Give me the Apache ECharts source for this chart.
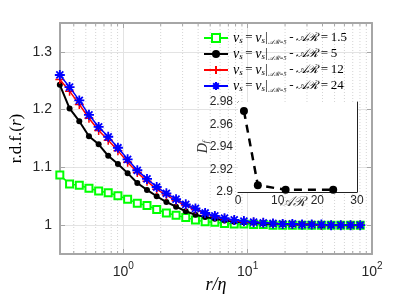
<!DOCTYPE html>
<html><head><meta charset="utf-8">
<script src="https://cdn.jsdelivr.net/npm/echarts@6/dist/echarts.min.js"></script>
<style>html,body{margin:0;padding:0;background:#fff}#c{width:411px;height:308px}</style>
</head><body><div id="c"></div>
<script>
// ---- data ----
const rOverEta = [0.309,0.370,0.443,0.530,0.634,0.757,0.906,1.084,1.297,1.552,1.857,2.222,2.658,3.181,3.806,4.554,5.449,6.519,7.80,9.33,11.17,13.36,15.99,19.13,22.89,27.39,32.77,39.2,46.9,56.1,67.2,80.4];
const rdfAR1_5 = [1.087,1.071,1.069,1.064,1.059,1.056,1.051,1.045,1.038,1.034,1.027,1.021,1.017,1.013,1.009,1.006,1.005,1.003,1.002,1.002,1.001,1.001,1.000,1.000,1.000,1.000,1.000,1.000,1.000,1.000,1.000,1.000];
const rdfAR5 = [1.243,1.202,1.180,1.154,1.140,1.120,1.106,1.090,1.073,1.061,1.050,1.040,1.032,1.024,1.018,1.014,1.011,1.008,1.006,1.005,1.004,1.003,1.002,1.002,1.001,1.001,1.001,1.000,1.000,1.000,1.000,1.000];
const rdfAR12 = [1.252,1.232,1.209,1.185,1.164,1.147,1.129,1.109,1.091,1.076,1.062,1.052,1.042,1.034,1.027,1.020,1.015,1.011,1.008,1.006,1.005,1.004,1.003,1.002,1.001,1.001,1.001,1.000,1.000,1.000,1.000,1.000];
const rdfAR24 = [1.260,1.239,1.216,1.191,1.170,1.153,1.134,1.114,1.095,1.080,1.066,1.055,1.045,1.036,1.029,1.021,1.016,1.012,1.009,1.007,1.005,1.004,1.003,1.002,1.002,1.001,1.001,1.001,1.000,1.000,1.000,1.000];
const insetAR = [1.5, 5, 12, 24];
const insetDf = [2.972, 2.906, 2.902, 2.902];
const seriesARLabels = ['1.5', '5', '12', '24'];
const minorTicks = [0.4,0.5,0.6,0.7,0.8,0.9,2,3,4,5,6,7,8,9,20,30,40,50,60,70,80,90];
const yTickLabels = ['1', '1.1', '1.2', '1.3'];

// ---- chart ----
const zip = (xs, ys) => xs.map((x, i) => [x, ys[i]]);
const AR = '\u{1D49C}\u211B';
const TS = '\u2009';
const legendText = {};
const names = ['AR=1.5', 'AR=5', 'AR=12', 'AR=24'];
names.forEach((n, i) => {
  legendText[n] = '{it|v}{sub|s}{rm|' + TS + '=' + TS + '}{it|v}{sub|s}{rm||}{tiny|' + AR + '=5}{rm|' + TS + '-' + TS + '}{cal|' + AR + '}{rm|' + TS + '=' + TS + seriesARLabels[i] + '}';
});
const serif = 'Liberation Serif';
const tickColor = '#262626';
const frame = '#a6a6a6';
const YMIN = 0.95, YMAX = 1.35;

const plusPath = 'path://M5,0L5,10M0,5L10,5';
const starPath = 'path://M5,0L5,10M0,5L10,5M1.5,1.5L8.5,8.5M8.5,1.5L1.5,8.5';

const chart = echarts.init(document.getElementById('c'), null, {renderer: 'canvas'});
chart.setOption({
  animation: false,
  backgroundColor: '#fff',
  grid: [
    {left: 55, top: 23, width: 317, height: 231},
    {left: 238, top: 102, width: 119, height: 90, show: true, backgroundColor: '#fff', borderWidth: 0, z: 5}
  ],
  legend: {
    orient: 'vertical', left: 203, top: 31, itemWidth: 24, itemHeight: 10, itemGap: 2,
    padding: 0,
    data: names,
    formatter: n => legendText[n],
    textStyle: {
      color: '#000',
      rich: {
        it: {fontFamily: serif, fontStyle: 'italic', fontSize: 14, lineHeight: 14},
        rm: {fontFamily: serif, fontSize: 13, lineHeight: 14},
        cal: {fontFamily: serif, fontStyle: 'italic', fontSize: 12, lineHeight: 14},
        sub: {fontFamily: serif, fontStyle: 'italic', fontSize: 9, lineHeight: 9, verticalAlign: 'bottom', padding: [4, 0, 0, 0]},
        tiny: {fontFamily: serif, fontStyle: 'italic', fontSize: 6, lineHeight: 6, verticalAlign: 'bottom', padding: [5, 0, 0, 0]}
      }
    }
  },
  xAxis: [
    {type: 'log', gridIndex: 0, min: 0.31, max: 100, logBase: 10,
     axisLine: {show: true, onZero: false, lineStyle: {color: frame, width: 2}},
     axisTick: {show: true, inside: true, length: 5, lineStyle: {color: frame}},
     splitLine: {show: true, lineStyle: {color: '#e3e3e3', width: 1}},
     axisLabel: {color: tickColor, fontFamily: 'Liberation Sans', fontSize: 14, margin: 7,
       formatter: v => { const e = Math.log10(v); if (Math.abs(e - Math.round(e)) > 1e-6) return ''; return '{b|10}{s|' + Math.round(e) + '}'; },
       rich: {b: {fontSize: 14, fontFamily: 'Liberation Sans', color: tickColor, verticalAlign: 'bottom', lineHeight: 18}, s: {fontSize: 10, fontFamily: 'Liberation Sans', color: tickColor, verticalAlign: 'top', lineHeight: 18}}},
     name: 'r/\u03B7', nameLocation: 'middle', nameGap: 22, nameMoveOverlap: false,
     nameTextStyle: {fontFamily: serif, fontStyle: 'italic', fontSize: 18, color: '#000'}},
    {type: 'log', gridIndex: 0, min: 0.31, max: 100, logBase: 10, position: 'top',
     axisLine: {show: true, onZero: false, lineStyle: {color: frame, width: 2}},
     axisTick: {show: true, inside: true, length: 5, lineStyle: {color: frame}},
     splitLine: {show: false}, axisLabel: {show: false}},
    {type: 'value', gridIndex: 1, min: 0, max: 30, interval: 10,
     axisLine: {show: true, onZero: false, lineStyle: {color: '#222', width: 1}},
     axisTick: {show: true, inside: true, length: 3, lineStyle: {color: '#222'}},
     splitLine: {show: false},
     axisLabel: {color: tickColor, fontFamily: 'Liberation Sans', fontSize: 12, margin: 3},
     name: AR, nameLocation: 'middle', nameGap: 3, nameMoveOverlap: false,
     nameTextStyle: {fontFamily: serif, fontStyle: 'italic', fontSize: 14, color: '#333', verticalAlign: 'top', padding: [0, 10, 0, 0]}},
    {type: 'value', gridIndex: 1, min: 0, max: 30, interval: 10, position: 'top',
     axisLine: {show: true, onZero: false, lineStyle: {color: '#222', width: 1}},
     axisTick: {show: true, inside: true, length: 3, lineStyle: {color: '#222'}},
     splitLine: {show: false}, axisLabel: {show: false}}
  ],
  yAxis: [
    {type: 'value', gridIndex: 0, min: YMIN, max: YMAX, splitNumber: 4,
     axisLine: {show: true, onZero: false, lineStyle: {color: frame, width: 2}},
     axisTick: {show: true, inside: true, length: 5, lineStyle: {color: frame}},
     splitLine: {show: true, lineStyle: {color: '#e3e3e3', width: 1}},
     axisLabel: {color: tickColor, fontFamily: 'Liberation Sans', fontSize: 14, margin: 8,
       formatter: v => { const k = yTickLabels.indexOf(String(Math.round(v * 10) / 10)); return (Math.abs(v * 10 - Math.round(v * 10)) < 1e-6 && k >= 0) ? yTickLabels[k] : ''; }},
     name: '{rm|r.d.f.(}{it|r}{rm|)}', nameLocation: 'middle', nameGap: 35, nameMoveOverlap: false,
     nameTextStyle: {color: '#000', rich: {
       rm: {fontFamily: serif, fontSize: 17, color: '#000'},
       it: {fontFamily: serif, fontStyle: 'italic', fontSize: 17, color: '#000'}}}},
    {type: 'value', gridIndex: 0, min: YMIN, max: YMAX, splitNumber: 4, position: 'right',
     axisLine: {show: true, onZero: false, lineStyle: {color: frame, width: 2}},
     axisTick: {show: true, inside: true, length: 5, lineStyle: {color: frame}},
     splitLine: {show: false}, axisLabel: {show: false}},
    {type: 'value', gridIndex: 1, min: 2.9, max: 2.98, interval: 0.02,
     axisLine: {show: true, onZero: false, lineStyle: {color: '#222', width: 1}},
     axisTick: {show: true, inside: true, length: 3, lineStyle: {color: '#222'}},
     splitLine: {show: false},
     axisLabel: {color: tickColor, fontFamily: 'Liberation Sans', fontSize: 12, margin: 5},
     name: '{i|D}{s|f}', nameLocation: 'middle', nameGap: 28, nameMoveOverlap: false,
     nameTextStyle: {color: '#333', rich: {
       i: {fontFamily: serif, fontStyle: 'italic', fontSize: 14, color: '#333'},
       s: {fontFamily: serif, fontStyle: 'italic', fontSize: 9, color: '#333', verticalAlign: 'bottom', padding: [5, 0, 0, 0]}}}},
    {type: 'value', gridIndex: 1, min: 2.9, max: 2.98, interval: 0.02, position: 'right',
     axisLine: {show: true, onZero: false, lineStyle: {color: '#222', width: 1}},
     axisTick: {show: true, inside: true, length: 3, lineStyle: {color: '#222'}},
     splitLine: {show: false}, axisLabel: {show: false}}
  ],
  series: [
    {type: 'custom', xAxisIndex: 0, yAxisIndex: 0, silent: true, z: 0,
     data: minorTicks.map(v => [v]),
     renderItem: (params, api) => {
       const x = api.value(0);
       const t = api.coord([x, YMAX]);
       const b = api.coord([x, YMIN]);
       return {type: 'group', children: [
         {type: 'line', shape: {x1: t[0], y1: t[1], x2: b[0], y2: b[1]}, style: {stroke: '#d4d4d4', lineWidth: 1, lineDash: [1, 2]}},
         {type: 'line', shape: {x1: b[0], y1: b[1], x2: b[0], y2: b[1] - 3}, style: {stroke: frame, lineWidth: 1}},
         {type: 'line', shape: {x1: t[0], y1: t[1], x2: t[0], y2: t[1] + 3}, style: {stroke: frame, lineWidth: 1}}
       ]};
     }},
    {name: names[0], type: 'line', xAxisIndex: 0, yAxisIndex: 0, data: zip(rOverEta, rdfAR1_5), z: 2, clip: false,
     color: '#00ff00', lineStyle: {color: '#00ff00', width: 1.5},
     symbol: 'emptyRect', symbolSize: 7, itemStyle: {color: '#00ff00', borderColor: '#00ff00', borderWidth: 1.3}},
    {name: names[1], type: 'line', xAxisIndex: 0, yAxisIndex: 0, data: zip(rOverEta, rdfAR5), z: 3, clip: false,
     color: '#000', lineStyle: {color: '#000', width: 2},
     symbol: 'circle', symbolSize: 6, itemStyle: {color: '#000'}},
    {name: names[2], type: 'line', xAxisIndex: 0, yAxisIndex: 0, data: zip(rOverEta, rdfAR12), z: 4, clip: false,
     color: '#ff0000', lineStyle: {color: '#ff0000', width: 1.5},
     symbol: plusPath, symbolSize: 9, itemStyle: {color: '#ff0000', borderColor: '#ff0000', borderWidth: 1.5}},
    {name: names[3], type: 'line', xAxisIndex: 0, yAxisIndex: 0, data: zip(rOverEta, rdfAR24), z: 5, clip: false,
     color: '#0000ff', lineStyle: {color: '#0000ff', width: 1.5},
     symbol: starPath, symbolSize: 10, itemStyle: {color: '#0000ff', borderColor: '#0000ff', borderWidth: 1.8}},
    {name: 'inset', type: 'line', xAxisIndex: 2, yAxisIndex: 2, data: zip(insetAR, insetDf), z: 10,
     lineStyle: {color: '#000', width: 2.5, type: [8, 6]},
     symbol: 'circle', symbolSize: 8, itemStyle: {color: '#000'}}
  ]
});
</script>
</body></html>
